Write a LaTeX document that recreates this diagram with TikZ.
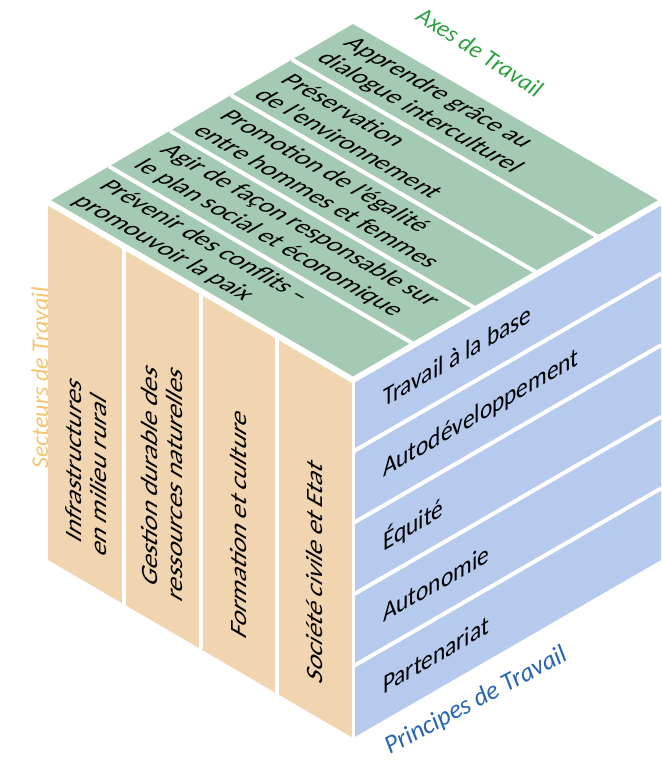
\documentclass[tikz,border=0pt]{standalone}
\usepackage{fontspec}
\setmainfont{Carlito}
\usetikzlibrary{calc}
\definecolor{axegreen}{RGB}{165,202,180}
\definecolor{sectorange}{RGB}{240,213,176}
\definecolor{princblue}{RGB}{182,202,238}
\definecolor{axetext}{RGB}{40,160,60}
\definecolor{secttext}{RGB}{245,196,110}
\definecolor{princtext}{RGB}{40,100,180}
\tikzset{
  facetext/.style={font=\fontsize{27}{29}\selectfont, align=left, inner sep=0pt},
  toptext/.style={facetext, font=\fontsize{26}{30.5}\selectfont, cm={0.866,-0.5,0.866,0.5,(0,0)}, anchor=west},
  lefttext/.style={facetext, cm={0,1,-0.866,0.5,(0,0)}, anchor=west},
  righttext/.style={facetext, cm={0.866,0.5,0,1,(0,0)}, anchor=west},
  facegap/.style={white, line width=6pt},
  stripgap/.style={white, line width=4pt},
  cubelabel/.style={font=\fontsize{24}{26}\selectfont\itshape}
}
\begin{document}
\begin{tikzpicture}[x=1pt,y=-1pt]
\useasboundingbox (0,0) rectangle (663,762);
% corners of the cube
\coordinate (B) at (353,24);
\coordinate (L) at (48,202);
\coordinate (F) at (353,380);
\coordinate (R) at (661,202);
\coordinate (LB) at (48,560);
\coordinate (FB) at (353,738);
\coordinate (RB) at (661,560);
% faces
\fill[axegreen] (L) -- (B) -- (R) -- (F) -- cycle;
\fill[sectorange] (L) -- (F) -- (FB) -- (LB) -- cycle;
\fill[princblue] (F) -- (R) -- (RB) -- (FB) -- cycle;
% strips
\foreach \k in {1,...,4}{
    \draw[stripgap] ($(L)!\k/5!(B)$) -- ($(F)!\k/5!(R)$);
    \draw[stripgap] ($(F)!\k/5!(FB)$) -- ($(R)!\k/5!(RB)$);
  }
\foreach \j in {1,...,3}{
    \draw[stripgap] ($(L)!\j/4!(F)$) -- ($(LB)!\j/4!(FB)$);
  }
\draw[facegap] (L) -- (F) -- (R);
\draw[white, line width=3pt] (F) -- (FB);
% texts of the top face
\foreach \k/\txt in {0/{Prévenir des conflits –\\promouvoir la paix},
    1/{Agir de façon responsable sur\\le plan social et économique},
    2/{Promotion de l'égalité\\entre hommes et femmes},
    3/{Préservation\\de l'environnement},
    4/{Apprendre grâce au\\dialogue interculturel}}{
    \node[toptext] (axe\k) at ($(L)!{(\k+0.5)/5}!(B) + (12,7)$) {\txt};
  }
% texts of the left face
\foreach \j/\txt in {0/{Infrastructures\\en milieu rural},
    1/{Gestion durable des\\ressources naturelles},
    2/{Formation et culture},
    3/{Société civile et Etat}}{
    \node[lefttext] (sect\j) at ($(LB)!{(\j+0.5)/4}!(FB) + (0,-35)$) {\txt};
  }
% texts of the right face
\foreach \i/\txt in {0/{Travail à la base}, 1/{Autodéveloppement}, 2/{Équité},
    3/{Autonomie}, 4/{Partenariat}}{
    \node[righttext] (princ\i) at ($(F)!{(\i+0.5)/5}!(FB) + (30,-17)$) {\txt};
  }
% labels
\node[cubelabel, text=axetext, rotate=-33] (axes) at (480,52) {Axes de Travail};
\node[cubelabel, text=secttext, rotate=90] (secteurs) at (40,378) {Secteurs de Travail};
\node[cubelabel, font=\fontsize{26}{28}\selectfont\itshape, text=princtext, rotate=28] (principes) at (476,701) {Principes de Travail};
\end{tikzpicture}
\end{document}
